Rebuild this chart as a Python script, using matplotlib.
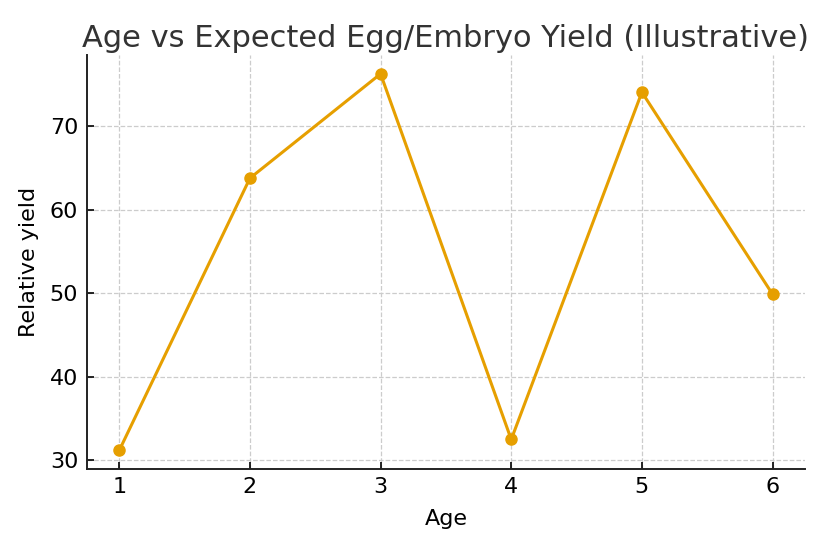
import matplotlib
matplotlib.use("Agg")
import matplotlib.pyplot as plt

ages = [1, 2, 3, 4, 5, 6]
yields = [31.2, 63.8, 76.3, 32.5, 74.1, 49.9]
yticks = [30, 40, 50, 60, 70]

fig = plt.figure(figsize=(8.25, 5.5), dpi=100)
ax = fig.add_axes([0.105, 0.147, 0.871, 0.753])

ax.plot(ages, yields, color="#E69F00", linewidth=2.2, marker="o", markersize=8)

ax.set_title("Age vs Expected Egg/Embryo Yield (Illustrative)", fontsize=22, color="#333333", pad=6)
ax.set_xlabel("Age", fontsize=16, labelpad=8)
ax.set_ylabel("Relative yield", fontsize=16, labelpad=8)
ax.set_xticks(ages)
ax.set_yticks(yticks)
ax.tick_params(direction="in", labelsize=16, length=5, width=1.2, pad=6)
ax.grid(True, linestyle="--", color="#cccccc", linewidth=0.9)

for s in ["top", "right"]:
    ax.spines[s].set_visible(False)
for s in ["left", "bottom"]:
    ax.spines[s].set_linewidth(1.4)
    ax.spines[s].set_color("#222222")

fig.savefig("out.png", dpi=100)
